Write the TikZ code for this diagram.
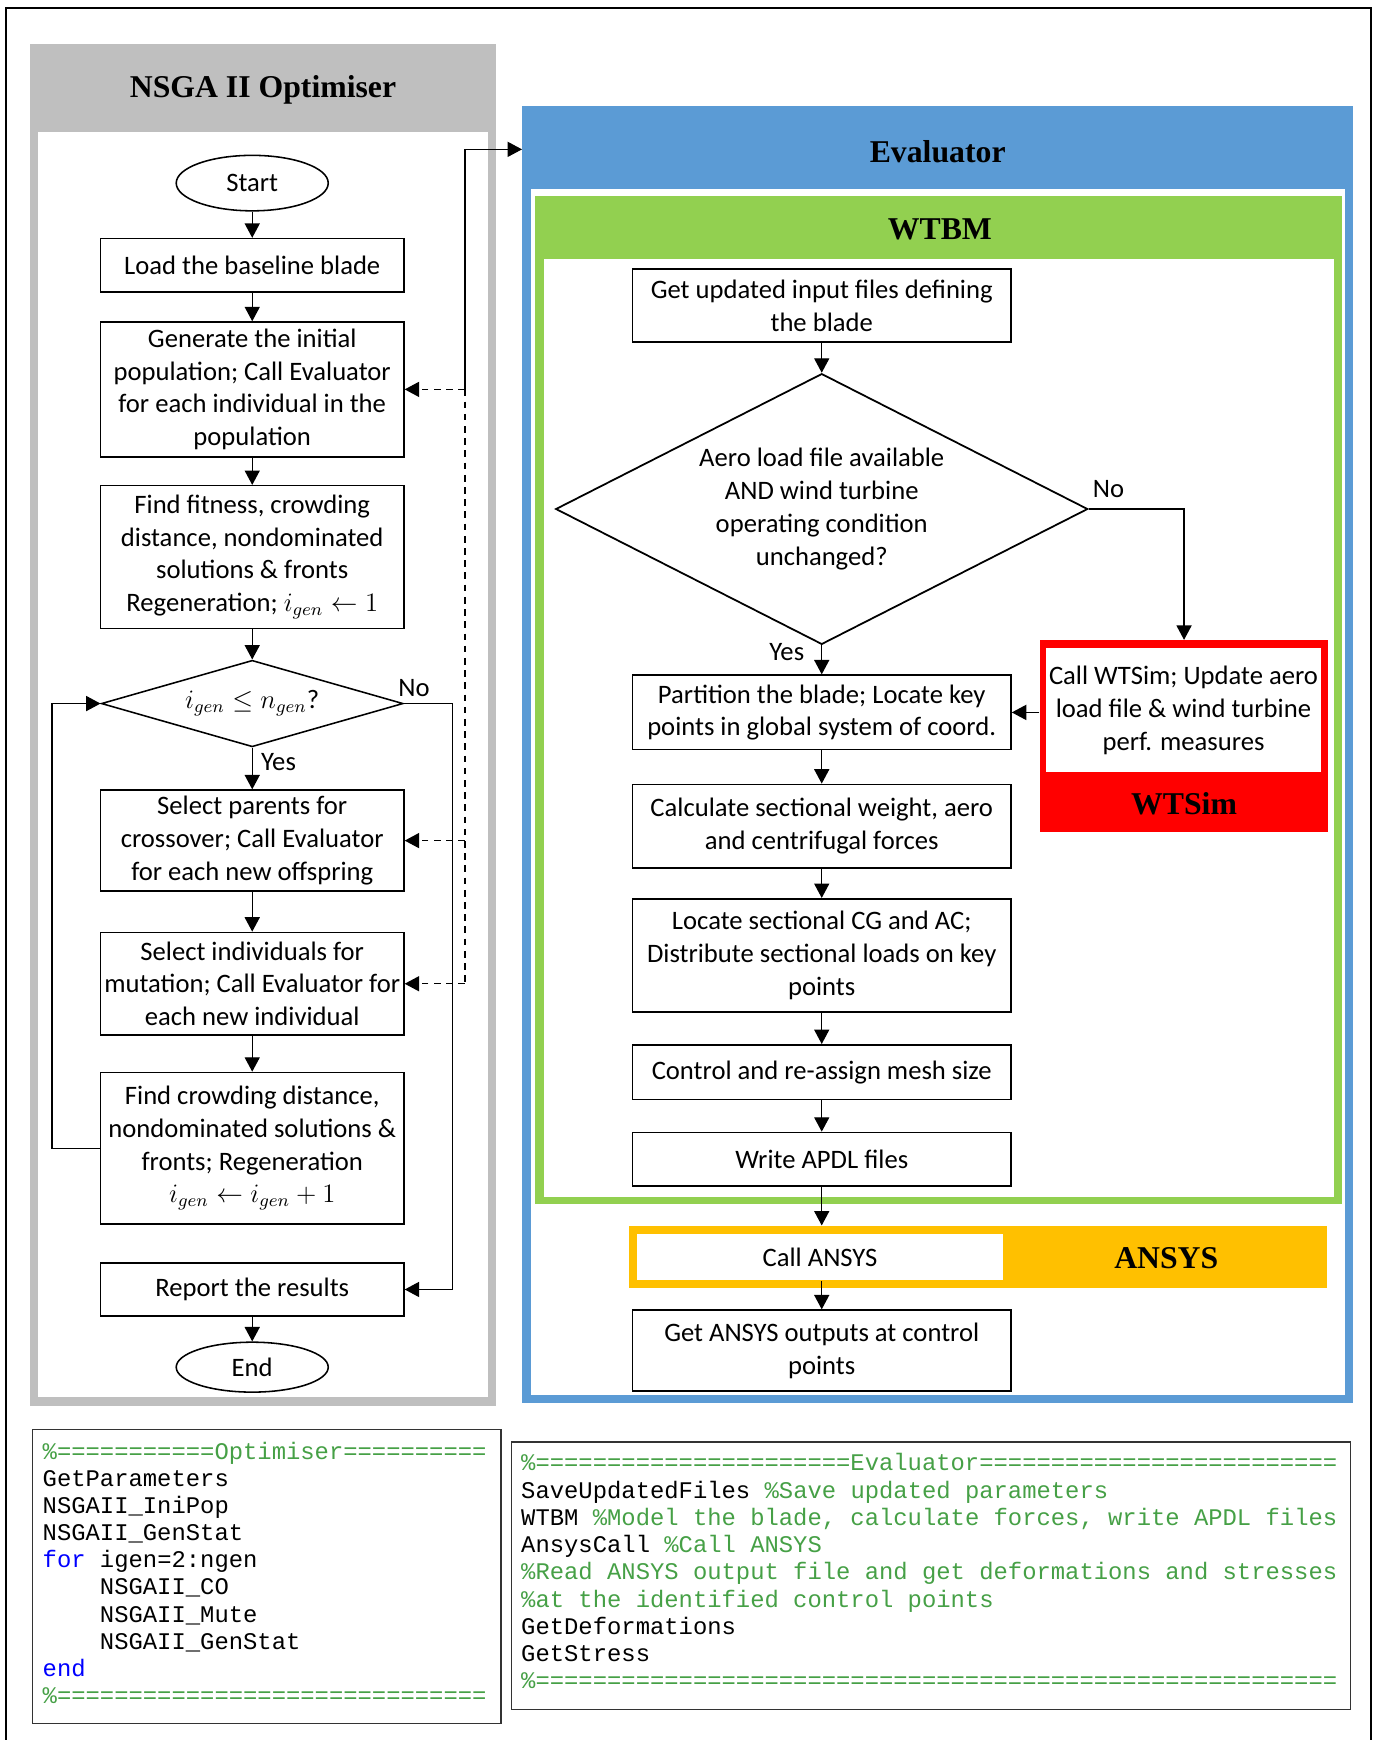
\documentclass[tikz,border=0pt]{standalone}
\usepackage{fontspec}
\setmainfont{Carlito}
\setmonofont{Liberation Mono}
\newfontfamily\headfont{Liberation Serif}
\usetikzlibrary{shapes.geometric,arrows.meta}
\definecolor{optgray}{RGB}{191,191,191}
\definecolor{evalblue}{RGB}{91,155,213}
\definecolor{wtbmgreen}{RGB}{146,208,80}
\definecolor{ansysgold}{RGB}{255,192,0}
\definecolor{wtsimred}{RGB}{255,0,0}
\definecolor{cmtgreen}{RGB}{70,160,70}
\definecolor{kwblue}{RGB}{0,0,255}
\newcommand{\cmt}[1]{\textcolor{cmtgreen}{#1}}
\newcommand{\kw}[1]{\textcolor{kwblue}{#1}}

\begin{document}
\begin{tikzpicture}[x=0.5pt,y=-0.5pt,font=\fontsize{12}{14.75}\selectfont]
	\tikzstyle{box}=[draw,line width=0.7pt,rectangle,align=center,inner sep=0pt,minimum width=136.7pt];
	\tikzstyle{rbox}=[draw,line width=0.8pt,rectangle,align=center,inner sep=0pt,minimum width=170.5pt];
	\tikzstyle{term}=[draw,line width=0.7pt,ellipse,inner sep=0pt,minimum width=68.5pt];
	\tikzstyle{decide}=[draw,diamond,align=center,inner sep=0pt];
	\tikzstyle{flow}=[line width=0.6pt,-{Triangle[length=6.5pt,width=6.8pt]}];
	\tikzstyle{call}=[flow,dash pattern=on 3pt off 2.5pt];
	\tikzstyle{head}=[font=\fontsize{14.3}{17}\selectfont\headfont\bfseries];
	\tikzstyle{code}=[anchor=base west,inner sep=0pt,font=\fontsize{10.75}{12}\selectfont\ttfamily];
	\useasboundingbox (0,0) rectangle (1242,1568);
	\draw[line width=0.8pt] (5.4,1568) -- (5.4,7.5) -- (1235.4,7.5) -- (1235.4,1568);

	% optimiser frame
	\fill[optgray] (27,39.7) rectangle (446.8,1267);
	\fill[white] (34.5,118.7) rectangle (439.5,1259);
	\node[head] (opttitle) at (237,81) {NSGA II Optimiser};

	% evaluator, WTBM, WTSim and ANSYS frames
	\node[fill=evalblue,inner sep=0pt,minimum width=374.3pt,minimum height=584.2pt] (evalbox) at (845.1,679.8) {};
	\fill[white] (478.4,170) rectangle (1211.8,1257.3);
	\node[head] (evaltitle) at (845,137) {Evaluator};
	\fill[wtbmgreen] (482.4,177) rectangle (1209.3,1085);
	\fill[white] (490,233.7) rectangle (1201.7,1078.6);
	\node[head] (wtbmtitle) at (847,207) {WTBM};
	\node[fill=wtsimred,inner sep=0pt,minimum width=130pt,minimum height=86.5pt] (wtsimbox) at (1067,663.5) {};
	\node[fill=white,align=center,inner sep=0pt,minimum width=123.5pt,minimum height=56pt] (wtsim) at (1066.5,640) {Call WTSim; Update aero\\load file \& wind turbine\\perf. measures};
	\node[head] (wtsimtitle) at (1067,724) {WTSim};
	\node[fill=ansysgold,inner sep=0pt,minimum width=314.5pt,minimum height=27.8pt] (ansysbar) at (881.5,1132.5) {};
	\node[fill=white,inner sep=0pt,minimum width=165pt,minimum height=20.85pt] (callansys) at (739,1133) {Call ANSYS};
	\node[head] (ansystitle) at (1051,1134) {ANSYS};

	% optimiser flow
	\node[term,minimum height=25pt] (start) at (227.3,165) {Start};
	\node[box,minimum height=24pt] (load) at (227.3,239) {Load the baseline blade};
	\node[box,minimum height=60.7pt] (init) at (227.3,350.9) {Generate the initial\\population; Call Evaluator\\for each individual in the\\population};
	\node[box,minimum height=64.3pt] (fitness) at (227.3,502) {Find fitness, crowding\\distance, nondominated\\solutions \& fronts\\Regeneration; $i_{gen}\leftarrow 1$};
	\node[decide,line width=0.7pt,minimum width=136pt,minimum height=39pt,aspect=3.49] (cond) at (227.3,634) {$i_{gen}\leq n_{gen}$?};
	\node[box,minimum height=45.5pt] (cross) at (227.3,757.5) {Select parents for\\crossover; Call Evaluator\\for each new offspring};
	\node[box,minimum height=46.25pt] (mute) at (227.3,886.5) {Select individuals for\\mutation; Call Evaluator for\\each new individual};
	\node[box,minimum height=68.35pt] (crowd) at (227.3,1034.8) {Find crowding distance,\\nondominated solutions \&\\fronts; Regeneration\\$i_{gen}\leftarrow i_{gen}+1$};
	\node[box,minimum height=24pt] (report) at (227.3,1162) {Report the results};
	\node[term,minimum height=22.5pt] (finish) at (227.3,1232) {End};
	\node (condno) at (373,620) {No};
	\node (condyes) at (251,687) {Yes};

	\draw[flow] (start.south) -- (load.north);
	\draw[flow] (load.south) -- (init.north);
	\draw[flow] (init.south) -- (fitness.north);
	\draw[flow] (fitness.south) -- (cond.north);
	\draw[flow] (cond.south) -- (cross.north);
	\draw[flow] (cross.south) -- (mute.north);
	\draw[flow] (mute.south) -- (crowd.north);
	\draw[flow] (report.south) -- (finish.north);
	\draw[flow] (crowd.west) -- ++(-43,0) |- (cond.west);
	\draw[flow] (cond.east) -- ++(44,0) |- (report.east);

	% calls to the evaluator
	\coordinate (bus) at (419,134.6);
	\draw[flow] (bus |- init.east) -- (bus) -- (bus -| evalbox.west);
	\draw[line width=0.6pt,dash pattern=on 3pt off 2.5pt] (bus |- init.east) -- (bus |- mute.east);
	\draw[call] (bus |- init.east) -- (init.east);
	\draw[call] (bus |- cross.east) -- (cross.east);
	\draw[call] (bus |- mute.east) -- (mute.east);

	% evaluator flow
	\node[rbox,minimum height=32.8pt] (getin) at (740.5,275.5) {Get updated input files defining\\the blade};
	\node[decide,line width=0.8pt,minimum width=239.75pt,minimum height=122pt,aspect=1.965] (aero) at (740.5,458.7) {Aero load file available\\AND wind turbine\\operating condition\\unchanged?};
	\node[rbox,minimum height=33.5pt] (part) at (740.5,642) {Partition the blade; Locate key\\points in global system of coord.};
	\node[rbox,minimum height=37.65pt] (forces) at (740.5,744.6) {Calculate sectional weight, aero\\and centrifugal forces};
	\node[rbox,minimum height=51pt] (loads) at (740.5,861) {Locate sectional CG and AC;\\Distribute sectional loads on key\\points};
	\node[rbox,minimum height=24.6pt] (mesh) at (740.5,966.2) {Control and re-assign mesh size};
	\node[rbox,minimum height=24pt] (apdl) at (740.5,1044.6) {Write APDL files};
	\node[rbox,minimum height=36.5pt] (output) at (740.5,1217.2) {Get ANSYS outputs at control\\points};
	\node (aerono) at (999,441) {No};
	\node (aeroyes) at (709,588) {Yes};

	\draw[flow] (getin.south) -- (aero.north);
	\draw[flow] (aero.south) -- (part.north);
	\draw[flow] (part.south) -- (forces.north);
	\draw[flow] (forces.south) -- (loads.north);
	\draw[flow] (loads.south) -- (mesh.north);
	\draw[flow] (mesh.south) -- (apdl.north);
	\draw[flow] (apdl.south) -- (apdl.south |- ansysbar.north);
	\draw[flow] (callansys.south -| output.north) -- (output.north);
	\draw[flow] (aero.east) -| (wtsimbox.north);
	\draw[flow] (wtsimbox.west |- part.east) -- (part.east);

	% code listings
	\draw[line width=0.6pt,black!80] (29.5,1288) rectangle (451.6,1553.3);
	\foreach \ln [count=\i from 0] in {{\cmt{\%===========Optimiser==========}},
		{GetParameters}, {NSGAII\_IniPop}, {NSGAII\_GenStat}, {\kw{for} igen=2:ngen},
		{\hspace*{2.4em}NSGAII\_CO}, {\hspace*{2.4em}NSGAII\_Mute}, {\hspace*{2.4em}NSGAII\_GenStat},
		{\kw{end}}, {\cmt{\%==============================}}}
		\node[code] (opt\i) at (38.1,1315+24.46*\i) {\ln};
	\draw[line width=0.6pt,black!80] (460.7,1299.4) rectangle (1216.8,1540.3);
	\foreach \ln [count=\i from 0] in {{\cmt{\%======================Evaluator=========================}},
		{SaveUpdatedFiles \cmt{\%Save updated parameters}},
		{WTBM \cmt{\%Model the blade, calculate forces, write APDL files}},
		{AnsysCall \cmt{\%Call ANSYS}},
		{\cmt{\%Read ANSYS output file and get deformations and stresses}},
		{\cmt{\%at the identified control points}},
		{GetDeformations}, {GetStress},
		{\cmt{\%========================================================}}}
		\node[code] (eva\i) at (469.3,1325.5+24.55*\i) {\ln};
\end{tikzpicture}
\end{document}
